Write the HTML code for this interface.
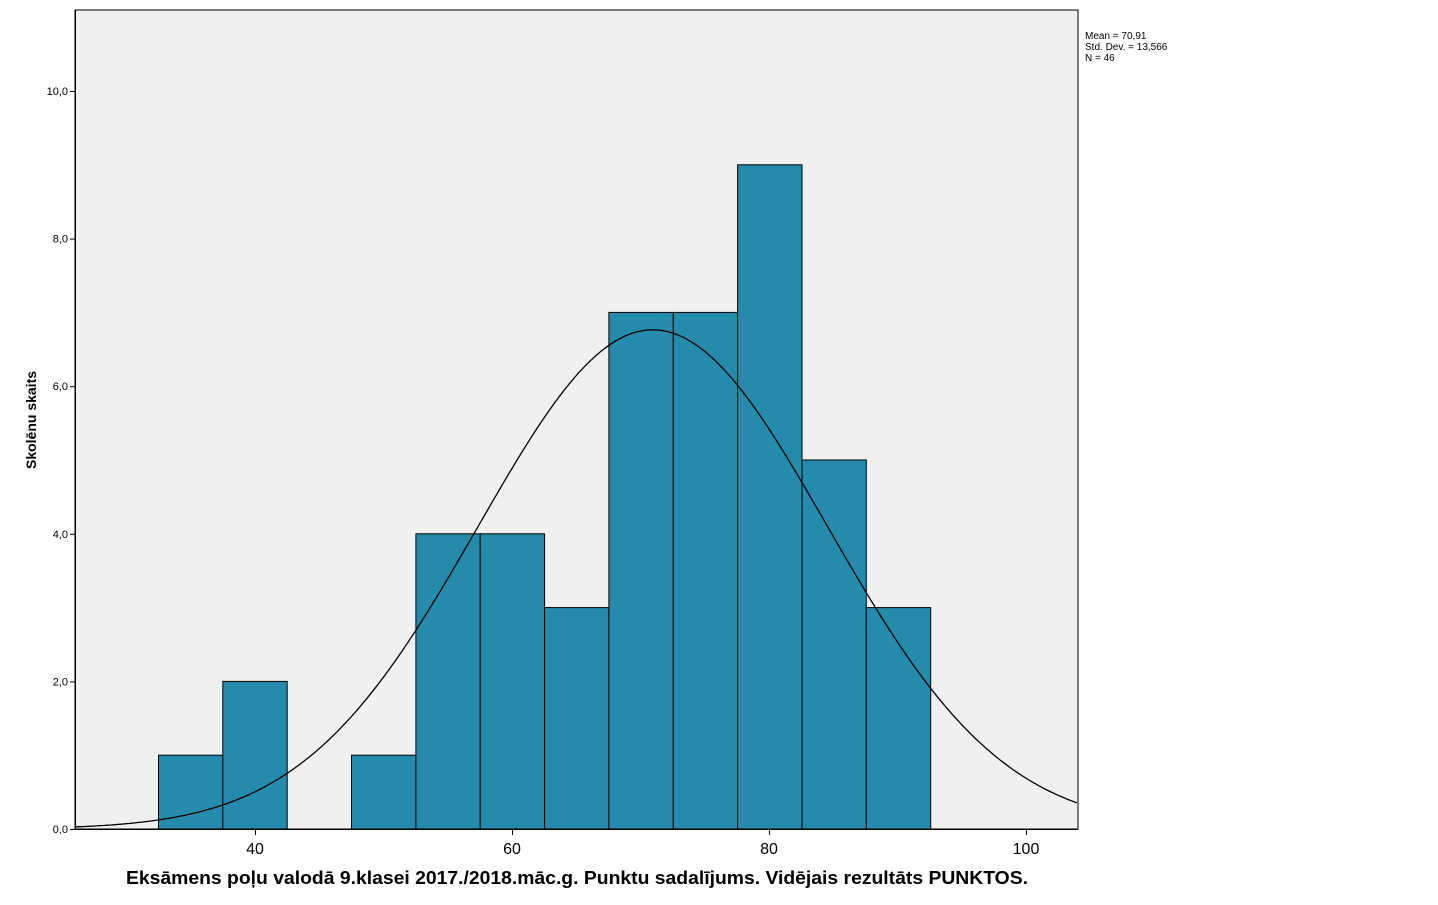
<!DOCTYPE html>
<html><head><meta charset="utf-8"><style>
html,body{margin:0;padding:0;background:#fff;}
svg{display:block;font-family:"Liberation Sans",Arial,sans-serif;}
</style></head><body>
<svg id="s" width="1438" height="905" xmlns="http://www.w3.org/2000/svg">
<rect x="75" y="10" width="1003" height="819" fill="#f0f0f0" stroke="#000" stroke-width="1"/>
<g id="bars"></g>
<path id="curve" fill="none" stroke="#000" stroke-width="1.3"/>
<line x1="75" y1="829.5" x2="1078" y2="829.5" stroke="#000"/>
<line x1="75.5" y1="10" x2="75.5" y2="830" stroke="#000"/>
<g id="ticks" font-size="11" fill="#000"></g>
<g font-size="16" fill="#000" text-anchor="middle">
<text x="255" y="854">40</text><text x="512" y="854">60</text><text x="769" y="854">80</text><text x="1026" y="854">100</text>
</g>
<g stroke="#000"><line x1="255.5" y1="830" x2="255.5" y2="835"/><line x1="512.5" y1="830" x2="512.5" y2="835"/><line x1="769.5" y1="830" x2="769.5" y2="835"/><line x1="1026.5" y1="830" x2="1026.5" y2="835"/></g>
<text x="577" y="884" font-size="18" font-weight="bold" text-anchor="middle" textLength="902" lengthAdjust="spacingAndGlyphs">Eksāmens poļu valodā 9.klasei 2017./2018.māc.g. Punktu sadalījums. Vidējais rezultāts PUNKTOS.</text>
<text transform="translate(36,420) rotate(-90)" font-size="14" font-weight="bold" text-anchor="middle">Skolēnu skaits</text>
<g font-size="10" fill="#000"><text x="1085" y="39">Mean = 70,91</text><text x="1085" y="50">Std. Dev. = 13,566</text><text x="1085" y="61">N = 46</text></g>
</svg>
<script>
var X=function(v){return 255+(v-40)*12.87;};
var Y=function(c){return 829-c*73.8;};
var counts=[1,2,0,1,4,4,3,7,7,9,5,3];
var g=document.getElementById('bars'),h='';
counts.forEach(function(c,i){if(!c)return;var a=32.5+5*i;var x1=X(a),x2=X(a+5);
h+='<rect x="'+x1.toFixed(1)+'" y="'+Y(c).toFixed(1)+'" width="'+(x2-x1).toFixed(1)+'" height="'+(c*73.8).toFixed(1)+'" fill="#248bad" stroke="#000" stroke-width="1"/>';});
g.innerHTML=h;
var m=70.91,s=13.566,k=46*5/(s*Math.sqrt(2*Math.PI)),d='';
for(var px=75;px<=1078;px+=2){var v=40+(px-255)/12.87;var y=k*Math.exp(-0.5*Math.pow((v-m)/s,2));d+=(px==75?'M':'L')+px+','+Y(y).toFixed(1);}
document.getElementById('curve').setAttribute('d',d);
var t='';for(var i=0;i<=10;i+=2){var y=Y(i);t+='<line x1="70" y1="'+(y+0.5)+'" x2="75" y2="'+(y+0.5)+'" stroke="#000"/><text x="68" y="'+(y+4)+'" text-anchor="end">'+i+',0</text>';}
document.getElementById('ticks').innerHTML=t;
</script>
</body></html>
